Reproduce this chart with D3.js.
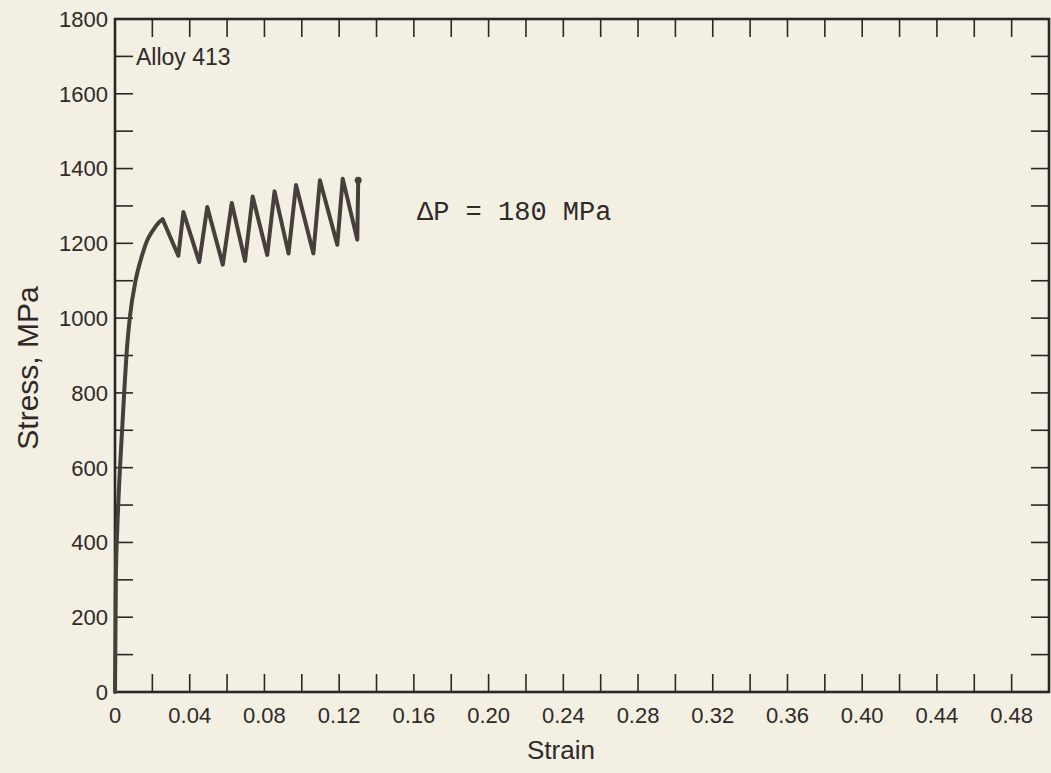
<!DOCTYPE html>
<html>
<head>
<meta charset="utf-8">
<script src="https://cdn.jsdelivr.net/npm/d3@7"></script>
<style>
  html, body { margin: 0; padding: 0; background: #f3efe3; }
  svg { display: block; }
  text { font-family: "Liberation Sans", Arial, sans-serif; fill: #2e2a27; }
</style>
</head>
<body>
<svg id="chart" width="1051" height="773"></svg>
<script>
// Monotonic loading up to the first peak
const loadStrain = [0, 0.0005, 0.0012, 0.0027, 0.0039, 0.0050, 0.0062, 0.0080, 0.0111, 0.0145, 0.0170, 0.0205, 0.0235, 0.0255];
const loadStress = [0, 318, 433, 602, 709, 808, 906, 1004, 1102, 1168, 1205, 1236, 1256, 1264];

// Load / unload cycles (peaks and valleys) after the first peak
const cycleStrain = [0.0255, 0.0339, 0.0366, 0.0451, 0.0494, 0.0577, 0.0625, 0.0696, 0.0737, 0.0815,
                     0.0854, 0.0929, 0.0969, 0.1062, 0.1097, 0.1190, 0.1219, 0.1297, 0.1302];
const cycleStress = [1264, 1167, 1284, 1150, 1297, 1143, 1308, 1153, 1325, 1169,
                     1339, 1173, 1356, 1173, 1369, 1196, 1373, 1210, 1369];

// Axis ticks
const xTicks = d3.range(0, 0.5001, 0.02);
const xLabels = [0, 0.04, 0.08, 0.12, 0.16, 0.20, 0.24, 0.28, 0.32, 0.36, 0.40, 0.44, 0.48];
const yTicks = d3.range(0, 1801, 100);
const yLabels = [0, 200, 400, 600, 800, 1000, 1200, 1400, 1600, 1800];

const svg = d3.select("#chart");
const plotL = 115, plotR = 1049, plotT = 19, plotB = 692;

const x = d3.scaleLinear().domain([0, 0.5]).range([plotL, plotR]);
const y = d3.scaleLinear().domain([0, 1800]).range([plotB, plotT]);

const axisColor = "#2b2724";
const tickLen = 18;

// Ticks on all four sides, pointing inward
const ticks = svg.append("g").attr("stroke", axisColor).attr("stroke-width", 1.6);
const innerX = xTicks.slice(1, -1), innerY = yTicks.slice(1, -1);
ticks.append("g").selectAll("line").data(innerX).join("line")
  .attr("x1", d => x(d)).attr("x2", d => x(d))
  .attr("y1", plotB).attr("y2", plotB - tickLen);
ticks.append("g").selectAll("line").data(innerX).join("line")
  .attr("x1", d => x(d)).attr("x2", d => x(d))
  .attr("y1", plotT).attr("y2", plotT + tickLen);
ticks.append("g").selectAll("line").data(innerY).join("line")
  .attr("x1", plotL).attr("x2", plotL + tickLen)
  .attr("y1", d => y(d)).attr("y2", d => y(d));
ticks.append("g").selectAll("line").data(innerY).join("line")
  .attr("x1", plotR).attr("x2", plotR - tickLen)
  .attr("y1", d => y(d)).attr("y2", d => y(d));

// Frame
svg.append("rect")
  .attr("x", plotL).attr("y", plotT)
  .attr("width", plotR - plotL).attr("height", plotB - plotT)
  .attr("fill", "none").attr("stroke", axisColor).attr("stroke-width", 2.6);

// Tick labels
const fmtX = d => d === 0 ? "0" : d3.format(".2f")(d);
svg.append("g").selectAll("text").data(xLabels).join("text")
  .attr("x", d => x(d)).attr("y", plotB + 31)
  .attr("text-anchor", "middle").attr("font-size", 22)
  .text(fmtX);
svg.append("g").selectAll("text").data(yLabels).join("text")
  .attr("x", plotL - 7).attr("y", d => y(d)).attr("dy", "0.36em")
  .attr("text-anchor", "end").attr("font-size", 22)
  .text(d => d);

// Axis titles
svg.append("text")
  .attr("x", 561).attr("y", 759)
  .attr("text-anchor", "middle").attr("font-size", 26)
  .text("Strain");
svg.append("text")
  .attr("transform", "translate(38, 368) rotate(-90)")
  .attr("text-anchor", "middle").attr("font-size", 30)
  .text("Stress, MPa");

// Curve
const lineColor = "#463f3b";
const line = d3.line().x(d => x(d[0])).y(d => y(d[1]));
svg.append("path")
  .datum(d3.zip(loadStrain, loadStress))
  .attr("d", line.curve(d3.curveMonotoneX))
  .attr("fill", "none").attr("stroke", lineColor).attr("stroke-width", 4)
  .attr("stroke-linejoin", "round").attr("stroke-linecap", "round");
svg.append("path")
  .datum(d3.zip(cycleStrain, cycleStress))
  .attr("d", d3.line().x(d => x(d[0])).y(d => y(d[1])))
  .attr("fill", "none").attr("stroke", lineColor).attr("stroke-width", 4)
  .attr("stroke-linejoin", "round").attr("stroke-linecap", "round");
svg.append("circle")
  .attr("cx", x(cycleStrain[cycleStrain.length - 1]))
  .attr("cy", y(cycleStress[cycleStress.length - 1]))
  .attr("r", 3.5).attr("fill", lineColor);

// Annotations
svg.append("text")
  .attr("x", plotL + 21).attr("y", y(1700)).attr("dy", "0.36em")
  .attr("font-size", 23)
  .text("Alloy 413");
svg.append("text")
  .attr("x", 417).attr("y", 220)
  .style("font-family", "'Liberation Mono', 'DejaVu Sans Mono', monospace")
  .attr("font-size", 27)
  .text("ΔP = 180 MPa");
</script>
</body>
</html>
